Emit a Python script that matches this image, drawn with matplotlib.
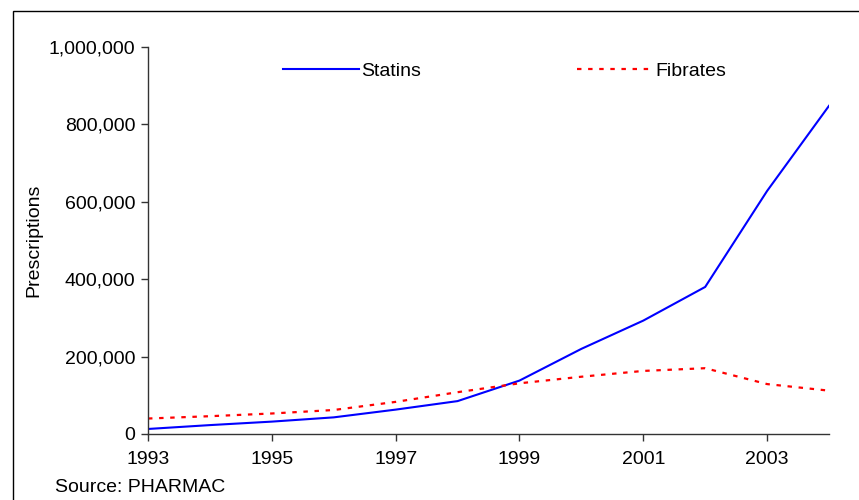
import matplotlib
matplotlib.use("Agg")
import matplotlib.pyplot as plt
from matplotlib.patches import Rectangle
from matplotlib.ticker import FuncFormatter

years = [1993, 1994, 1995, 1996, 1997, 1998, 1999, 2000, 2001, 2002, 2003, 2004]
statins = [13000, 23000, 32000, 43000, 63000, 85000, 138000, 220000, 293000, 380000, 628000, 848000]
fibrates = [40000, 46000, 53000, 62000, 83000, 108000, 131000, 148000, 163000, 170000, 129000, 112000]
xticks = [1993, 1995, 1997, 1999, 2001, 2003]
yticks = [0, 200000, 400000, 600000, 800000, 1000000]

plt.rcParams['font.family'] = ['Liberation Sans', 'DejaVu Sans']

W, H = 859, 500
fig = plt.figure(figsize=(W / 100, H / 100), dpi=100)
ax = fig.add_axes([148 / W, (H - 434) / H, (829 - 148) / W, (434 - 47) / H])

ax.plot(years, statins, color='#0000ff', lw=1.5, label='Statins')
ax.plot(years, fibrates, color='#ff0000', lw=1.6, dashes=(2, 3), label='Fibrates')

ax.set_xlim(1993, 2004)
ax.set_ylim(0, 1000000)
ax.set_xticks(xticks)
ax.set_yticks(yticks)
ax.yaxis.set_major_formatter(FuncFormatter(lambda v, p: f"{int(v):,}"))
for s in ['top', 'right']:
    ax.spines[s].set_visible(False)
for s in ['left', 'bottom']:
    ax.spines[s].set_color('#333333')
    ax.spines[s].set_linewidth(1.0)
ax.tick_params(axis='both', direction='out', length=5, width=1, color='#333333',
               labelsize=14, pad=4)
ax.tick_params(axis='x', pad=7)
ax.set_ylabel('Prescriptions', fontsize=14)
ax.yaxis.set_label_coords((42 - 148) / (829 - 148), 0.5)

ax.legend(loc='center left', bbox_to_anchor=((273 - 148) / 681, (434 - 71) / 387),
          ncol=2, frameon=False, borderpad=0, handlelength=3.9, handletextpad=0.15,
          columnspacing=8.0, fontsize=14)

fig.text(55 / W, 1 - 487 / H, 'Source: PHARMAC', fontsize=14, va='center', ha='left')

rect = Rectangle((12.5 / W, -0.1), 1.2, 1 - 10.5 / H + 0.1, transform=fig.transFigure,
                 fill=False, edgecolor='black', lw=1.0)
fig.patches.append(rect)

fig.savefig('out.png', dpi=100)
